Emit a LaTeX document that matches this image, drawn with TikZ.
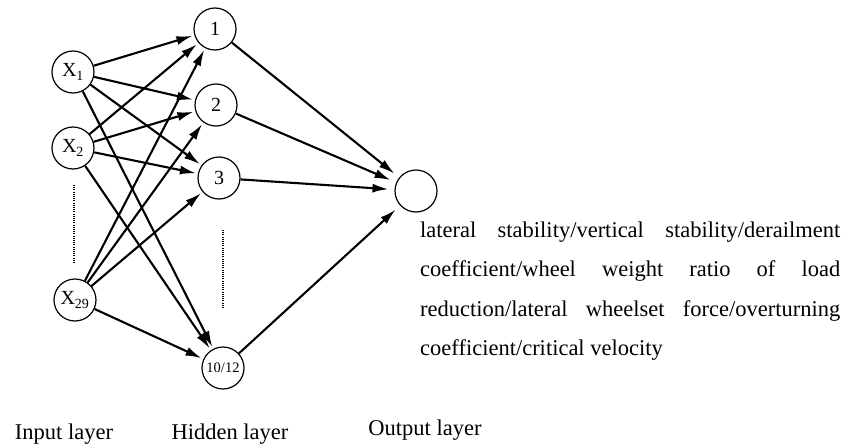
\documentclass[tikz,border=0pt]{standalone}
\usepackage{fontspec}
\setmainfont{Liberation Serif}
\usetikzlibrary{arrows.meta}
\begin{document}
\begin{tikzpicture}[x=1pt,y=-1pt,
  neuron/.style={circle,draw,line width=1.2pt,minimum size=42pt,inner sep=0pt,font=\fontsize{20}{20}\selectfont},
  conn/.style={line width=2.1pt,-{Latex[length=16pt,width=9pt]},shorten >=2pt},
  outconn/.style={conn,shorten >=6pt},
  dots/.style={line width=1.1pt,dash pattern=on 1pt off 1.2pt},
  lbl/.style={font=\fontsize{22.5}{22.5}\selectfont,anchor=base,inner sep=0pt}]
\useasboundingbox (0,0) rectangle (856,444);
% input layer
\node[neuron] (x1) at (73,72) {X\textsubscript{1}};
\node[neuron] (x2) at (73,148) {X\textsubscript{2}};
\node[neuron] (x29) at (75,300) {X\textsubscript{29}};
% hidden layer
\node[neuron] (h1) at (215,29) {1};
\node[neuron] (h2) at (216,105) {2};
\node[neuron] (h3) at (219,178) {3};
\node[neuron,font=\fontsize{14.5}{14.5}\selectfont] (h10) at (223,368) {10/12};
% output
\node[neuron] (o) at (416,191) {};
% dotted placeholders
\coordinate (d1a) at (74,185);
\coordinate (d1b) at (74,263);
\coordinate (d2a) at (223,230);
\coordinate (d2b) at (223,308);
\draw[dots] (d1a) -- (d1b);
\draw[dots] (d2a) -- (d2b);
% connections
\foreach \i in {x1,x2,x29}{
  \foreach \h in {h1,h2,h3,h10}{
    \draw[conn] (\i) -- (\h);
  }
}
\foreach \h in {h1,h2,h3,h10}{
  \draw[outconn] (\h) -- (o);
}
% description
\node[anchor=base west,inner sep=0pt,align=left,font=\fontsize{22.5}{39.5}\selectfont] (desc) at (420,355.5)
 {\makebox[420pt][s]{lateral stability/vertical stability/derailment}\\
  \makebox[420pt][s]{coefficient/wheel weight ratio of load}\\
  \makebox[420pt][s]{reduction/lateral wheelset force/overturning}\\
  coefficient/critical velocity};
% layer labels
\node[lbl] (li) at (64,439) {Input layer};
\node[lbl] (lh) at (230,439) {Hidden layer};
\node[lbl] (lo) at (425,435) {Output layer};
\end{tikzpicture}
\end{document}
